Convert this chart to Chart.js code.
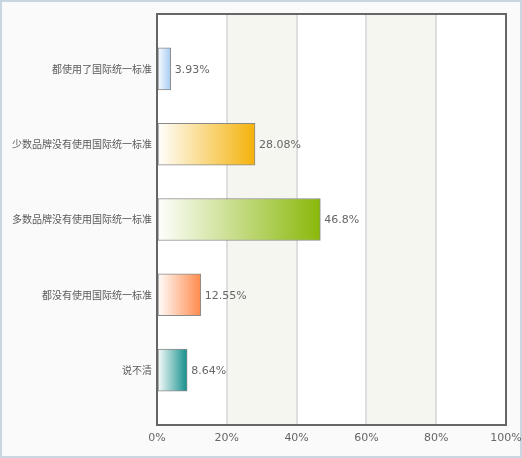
<!DOCTYPE html>
<html>
<head>
<meta charset="utf-8">
<script src="https://cdn.jsdelivr.net/npm/chart.js@4/dist/chart.umd.min.js"></script>
<style>
  html, body { margin: 0; padding: 0; background: #fff; }
  #wrap { width: 522px; height: 458px; }
</style>
</head>
<body>
<div id="wrap"><canvas id="surveyChart" width="522" height="458"></canvas></div>
<script>
// data
const categories = ['都使用了国际统一标准', '少数品牌没有使用国际统一标准', '多数品牌没有使用国际统一标准', '都没有使用国际统一标准', '说不清'];
const percents = [3.93, 28.08, 46.8, 12.55, 8.64];
const valueLabels = ['3.93%', '28.08%', '46.8%', '12.55%', '8.64%'];
const barColors = ['#a6ccf2', '#f4b20a', '#8ab80a', '#ff8a4c', '#13908c'];
const xTicks = [0, 20, 40, 60, 80, 100];

const FONT = '"DejaVu Sans", Verdana, sans-serif';
const CJK = '"Noto Sans CJK SC", "DejaVu Sans", sans-serif';

// background, plot area and alternating bands
const backdrop = {
    id: 'backdrop',
    beforeDraw(chart) {
        const { ctx, chartArea: a, scales } = chart;
        ctx.save();
        ctx.fillStyle = '#fafafa';
        ctx.fillRect(0, 0, chart.width, chart.height);
        ctx.strokeStyle = '#c9d5e1';
        ctx.lineWidth = 2;
        ctx.strokeRect(1, 1, chart.width - 2, chart.height - 2);
        ctx.fillStyle = '#ffffff';
        ctx.fillRect(a.left, a.top, a.right - a.left, a.bottom - a.top);
        ctx.fillStyle = '#f6f6f1';
        [[20, 40], [60, 80]].forEach(([lo, hi]) => {
            const x0 = scales.x.getPixelForValue(lo);
            const x1 = scales.x.getPixelForValue(hi);
            ctx.fillRect(x0, a.top, x1 - x0, a.bottom - a.top);
        });
        ctx.restore();
    },
    afterDraw(chart) {
        const { ctx, chartArea: a } = chart;
        ctx.save();
        ctx.strokeStyle = '#666666';
        ctx.lineWidth = 2;
        ctx.strokeRect(a.left, a.top, a.right - a.left, a.bottom - a.top);
        ctx.restore();
    }
};

// value text at the end of each bar
const endLabels = {
    id: 'endLabels',
    afterDatasetsDraw(chart) {
        const { ctx } = chart;
        const meta = chart.getDatasetMeta(0);
        ctx.save();
        ctx.font = '11px ' + FONT;
        ctx.fillStyle = '#666666';
        ctx.textAlign = 'left';
        ctx.textBaseline = 'middle';
        meta.data.forEach((bar, i) => {
            ctx.fillText(valueLabels[i], bar.x + 4, bar.y + 1);
        });
        ctx.restore();
    }
};

function barFill(context) {
    const chart = context.chart;
    const i = context.dataIndex;
    if (!chart.chartArea) return barColors[i];
    const x0 = chart.scales.x.getPixelForValue(0);
    const x1 = chart.scales.x.getPixelForValue(percents[i]);
    const g = chart.ctx.createLinearGradient(x0, 0, x1, 0);
    g.addColorStop(0, '#ffffff');
    g.addColorStop(1, barColors[i]);
    return g;
}

new Chart(document.getElementById('surveyChart'), {
    type: 'bar',
    data: {
        datasets: [{
            data: percents.map((v, i) => ({ x: v, y: i })),
            backgroundColor: barFill,
            borderColor: '#8a8a8a',
            borderWidth: 1,
            borderSkipped: false,
            barThickness: 42
        }]
    },
    options: {
        indexAxis: 'y',
        responsive: false,
        animation: false,
        layout: { padding: { top: 14, right: 0, left: 0, bottom: 0 } },
        plugins: { legend: { display: false }, tooltip: { enabled: false } },
        scales: {
            x: {
                type: 'linear',
                min: 0,
                max: 100,
                afterBuildTicks: (s) => { s.ticks = xTicks.map(v => ({ value: v })); },
                afterFit: (s) => { s.height = 33; s.paddingRight = 16; s.paddingLeft = 0; },
                border: { display: false },
                grid: {
                    drawTicks: false,
                    lineWidth: 2,
                    color: (c) => (c.tick && (c.tick.value === 0 || c.tick.value === 100)) ? 'rgba(0,0,0,0)' : '#dedede'
                },
                ticks: {
                    padding: 7,
                    color: '#666666',
                    font: { family: FONT, size: 11 },
                    callback: (v) => v + '%'
                }
            },
            y: {
                type: 'linear',
                reverse: true,
                offset: false,
                min: -0.73,
                max: 4.73,
                afterBuildTicks: (s) => { s.ticks = categories.map((c, i) => ({ value: i })); },
                afterFit: (s) => { s.width = 157; s.paddingTop = 0; s.paddingBottom = 0; },
                border: { display: false },
                grid: { display: false, drawTicks: false },
                ticks: {
                    padding: 5,
                    color: '#5a5a5a',
                    font: { family: CJK, size: 10 },
                    callback: (v) => categories[v]
                }
            }
        }
    },
    plugins: [backdrop, endLabels]
});
</script>
</body>
</html>
